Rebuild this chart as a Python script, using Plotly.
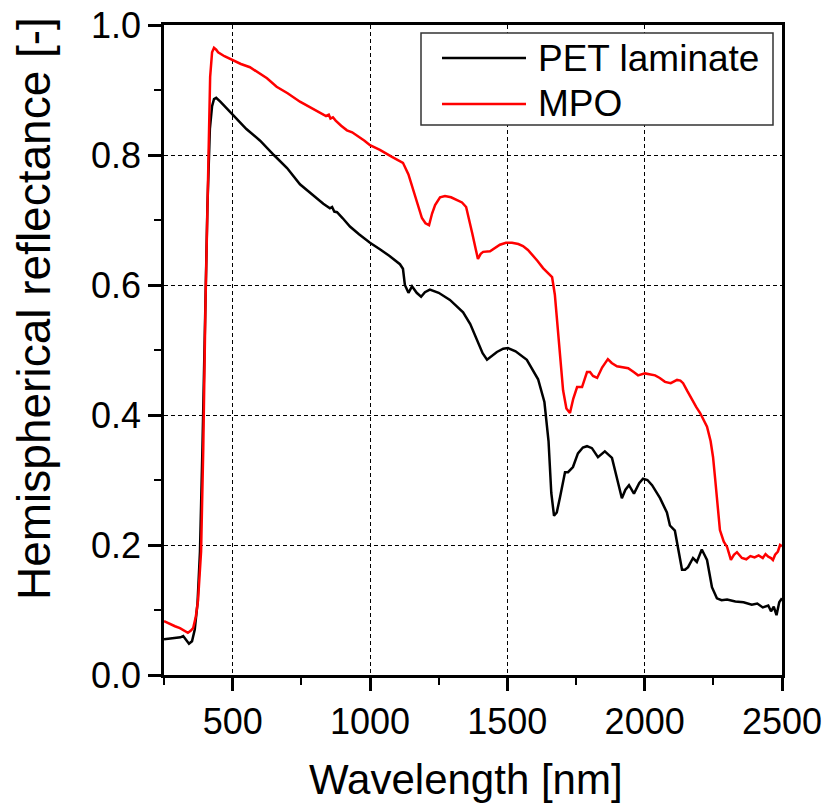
import plotly.graph_objects as go

# Hemispherical reflectance spectra
pet_wl = [250, 270, 290, 310, 320, 330, 341, 352, 362, 372, 381, 390, 399, 408, 417, 425,
          432, 440, 455, 470, 500, 550, 600, 650, 698, 745, 800, 830, 854, 862, 870, 880,
          900, 927, 960, 1000, 1036, 1070, 1109, 1120, 1127, 1140, 1153, 1170, 1186, 1200,
          1218, 1250, 1291, 1339, 1365, 1390, 1410, 1426, 1440, 1462, 1485, 1502, 1530,
          1571, 1612, 1635, 1650, 1660, 1670, 1680, 1692, 1710, 1721, 1739, 1757, 1775,
          1790, 1808, 1830, 1855, 1881, 1899, 1917, 1930, 1943, 1961, 1980, 1994, 2010,
          2027, 2056, 2081, 2092, 2110, 2125, 2136, 2147, 2158, 2176, 2190, 2208, 2227,
          2245, 2263, 2280, 2300, 2330, 2360, 2390, 2410, 2430, 2450, 2460, 2470, 2480,
          2490, 2500]
pet_refl = [0.055, 0.056, 0.057, 0.058, 0.060, 0.055, 0.048, 0.052, 0.070, 0.110, 0.190,
            0.350, 0.550, 0.720, 0.840, 0.875, 0.886, 0.888, 0.882, 0.875, 0.862, 0.840,
            0.822, 0.800, 0.780, 0.755, 0.735, 0.725, 0.718, 0.720, 0.713, 0.712, 0.703,
            0.690, 0.678, 0.665, 0.655, 0.645, 0.632, 0.625, 0.600, 0.588, 0.598, 0.588,
            0.582, 0.589, 0.593, 0.588, 0.577, 0.558, 0.540, 0.515, 0.495, 0.485, 0.490,
            0.497, 0.502, 0.503, 0.498, 0.485, 0.455, 0.420, 0.360, 0.280, 0.245, 0.250,
            0.274, 0.312, 0.312, 0.320, 0.341, 0.350, 0.352, 0.349, 0.335, 0.344, 0.334,
            0.305, 0.272, 0.285, 0.292, 0.279, 0.295, 0.302, 0.300, 0.292, 0.272, 0.250,
            0.230, 0.222, 0.190, 0.162, 0.162, 0.166, 0.180, 0.174, 0.193, 0.177, 0.135,
            0.118, 0.115, 0.116, 0.113, 0.112, 0.108, 0.110, 0.104, 0.107, 0.098, 0.105,
            0.092, 0.112, 0.118]

mpo_wl = [250, 272, 290, 308, 325, 337, 347, 356, 366, 374, 385, 393, 401, 410, 418, 425,
          432, 440, 447, 470, 500, 530, 563, 590, 625, 660, 700, 745, 800, 840, 850, 856,
          865, 875, 895, 916, 935, 960, 980, 1000, 1036, 1080, 1120, 1140, 1157, 1175,
          1189, 1202, 1215, 1226, 1237, 1255, 1273, 1295, 1317, 1335, 1350, 1362, 1372,
          1385, 1393, 1403, 1412, 1437, 1455, 1473, 1495, 1517, 1540, 1557, 1575, 1593,
          1610, 1630, 1650, 1663, 1673, 1680, 1692, 1703, 1715, 1728, 1740, 1754, 1772,
          1790, 1801, 1812, 1827, 1845, 1866, 1880, 1899, 1920, 1940, 1960, 1976, 2001,
          2020, 2038, 2055, 2074, 2095, 2118, 2130, 2140, 2155, 2172, 2188, 2202, 2215,
          2227, 2240, 2249, 2257, 2263, 2274, 2288, 2300, 2314, 2325, 2336, 2354, 2370,
          2385, 2400, 2415, 2430, 2440, 2450, 2460, 2467, 2475, 2485, 2493, 2500]
mpo_refl = [0.083, 0.078, 0.075, 0.072, 0.068, 0.065, 0.068, 0.072, 0.090, 0.115, 0.190,
            0.350, 0.570, 0.780, 0.920, 0.958, 0.965, 0.962, 0.958, 0.952, 0.946, 0.940,
            0.935, 0.927, 0.918, 0.905, 0.895, 0.882, 0.870, 0.860, 0.862, 0.856, 0.858,
            0.853, 0.845, 0.838, 0.835, 0.828, 0.822, 0.815, 0.808, 0.797, 0.788, 0.770,
            0.746, 0.720, 0.703, 0.695, 0.692, 0.710, 0.723, 0.735, 0.737, 0.735, 0.731,
            0.727, 0.720, 0.700, 0.680, 0.655, 0.640, 0.648, 0.651, 0.652, 0.657, 0.662,
            0.665, 0.665, 0.663, 0.660, 0.654, 0.646, 0.637, 0.626, 0.617, 0.612, 0.585,
            0.550, 0.500, 0.438, 0.410, 0.403, 0.425, 0.443, 0.443, 0.466, 0.466, 0.460,
            0.457, 0.473, 0.486, 0.480, 0.475, 0.474, 0.472, 0.466, 0.461, 0.464, 0.463,
            0.461, 0.457, 0.451, 0.449, 0.454, 0.453, 0.449, 0.437, 0.423, 0.412, 0.403,
            0.393, 0.382, 0.360, 0.335, 0.300, 0.269, 0.223, 0.205, 0.197, 0.177, 0.185,
            0.189, 0.180, 0.178, 0.183, 0.181, 0.184, 0.180, 0.186, 0.182, 0.180, 0.177,
            0.185, 0.190, 0.200, 0.198]

series_names = ["PET laminate", "MPO"]
series_colors = ["#000000", "#ff0000"]

x_ticks = [500, 1000, 1500, 2000, 2500]
y_ticks = [0.0, 0.2, 0.4, 0.6, 0.8, 1.0]

x_title = "Wavelength [nm]"
y_title = "Hemispherical reflectance [-]"

FONT = "Liberation Sans, Arial, sans-serif"

fig = go.Figure()
for wl, refl, name, color in zip([pet_wl, mpo_wl], [pet_refl, mpo_refl],
                                 series_names, series_colors):
    fig.add_trace(go.Scatter(x=wl, y=refl, mode="lines", name=name,
                             line=dict(color=color, width=2.5), showlegend=False))

axis_common = dict(
    automargin=False,
    showline=True, linecolor="black", linewidth=2.5, mirror=True,
    ticks="outside", ticklen=13, tickwidth=2.5, tickcolor="black",
    showgrid=True, gridcolor="black", gridwidth=1, griddash="4px,3px",
    zeroline=False,
    tickfont=dict(family=FONT, size=36, color="black"),
)

fig.update_xaxes(
    range=[250, 2500], tickvals=x_ticks,
    minor=dict(dtick=250, tick0=0, ticks="outside", ticklen=7, tickwidth=2, tickcolor="black", showgrid=False),
    **axis_common,
)
fig.update_yaxes(
    range=[0, 1.0], tickvals=y_ticks, tickformat=".1f",
    minor=dict(dtick=0.1, tick0=0, ticks="outside", ticklen=7, tickwidth=2, tickcolor="black", showgrid=False),
    **axis_common,
)

# pixel -> paper helpers for the plotting area
px0, px1, py0, py1 = 164, 782, 25, 675
def px_x(p):
    return (p - px0) / (px1 - px0)
def px_y(p):
    return (py1 - p) / (py1 - py0)

# Axis titles
fig.add_annotation(xref="paper", yref="paper", x=px_x(466), y=px_y(754), text=x_title,
                   showarrow=False, xanchor="center", yanchor="top",
                   font=dict(family=FONT, size=42, color="black"))
fig.add_annotation(xref="paper", yref="paper", x=px_x(34), y=px_y(309), text=y_title,
                   textangle=-90, showarrow=False, xanchor="center", yanchor="middle",
                   font=dict(family=FONT, size=46, color="black"))

# Legend drawn as a framed box with line samples
fig.add_shape(type="rect", xref="paper", yref="paper",
              x0=px_x(421), x1=px_x(773), y0=px_y(125), y1=px_y(33),
              line=dict(color="#333333", width=1.5), fillcolor="white", layer="above")
for i, (name, color) in enumerate(zip(series_names, series_colors)):
    yy = px_y([58, 104][i])
    fig.add_shape(type="line", xref="paper", yref="paper",
                  x0=px_x(442), x1=px_x(526), y0=yy, y1=yy,
                  line=dict(color=color, width=2.5), layer="above")
    fig.add_annotation(xref="paper", yref="paper", x=px_x(536), y=yy, text=name,
                       showarrow=False, xanchor="left", yanchor="middle",
                       font=dict(family=FONT, size=37, color="black"))

fig.update_layout(
    width=826, height=803,
    margin=dict(l=164, r=44, t=25, b=128),
    plot_bgcolor="white", paper_bgcolor="white",
    font=dict(family=FONT, color="black"),
)

fig.write_html("out.html")
